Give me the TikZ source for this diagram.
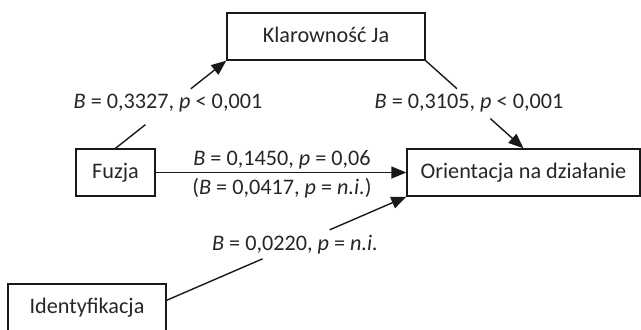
\documentclass[tikz,border=0pt]{standalone}
\usepackage{fontspec}
\setmainfont{Carlito}
\usetikzlibrary{arrows.meta,calc}
\begin{document}
\begin{tikzpicture}[x=0.5pt,y=-0.5pt,
  txt/.style={inner sep=0pt, text height=0.644em, text depth=0pt,
    font=\fontsize{11.1}{13}\selectfont, text=black!85},
  box/.style={txt, draw=black!90, line width=0.7pt, minimum height=23.5pt},
  lab/.style={txt},
  conn/.style={line width=0.7pt, draw=black!90},
  arr/.style={conn, -{Triangle[length=7.5pt,width=6pt]}}]
\useasboundingbox (0,0) rectangle (641,329);
% boxes
\node[box, minimum width=99pt]   (klar)   at (326,36.5)  {Klarowność Ja};
\node[box, minimum width=39.5pt] (fuzja)  at (115.5,172.5) {Fuzja};
\node[box, minimum width=116.5pt] (orient) at (523.5,172.5) {Orientacja na działanie};
\node[box, minimum width=79pt]   (ident)  at (87,307.5)  {Identyfikacja};
% labels
\node[lab] (l1) at (168,102)   {\textit{B} = 0,3327, \textit{p} < 0,001};
\node[lab] (l2) at (469,102)   {\textit{B} = 0,3105, \textit{p} < 0,001};
\node[lab] (l3) at (282,158.7) {\textit{B} = 0,1450, \textit{p} = 0,06};
\node[lab] (l4) at (282,188.5) {(\textit{B} = 0,0417, \textit{p} = \textit{n.i.})};
\node[lab] (l5) at (295,244.5) {\textit{B} = 0,0220, \textit{p} = \textit{n.i.}};
% connectors
\draw[conn] (fuzja.north) -- ($(fuzja.north)!0.27!(klar.south west)$);
\draw[arr] ($(fuzja.north)!0.68!(klar.south west)$) -- (klar.south west);
\draw[conn] (klar.south east) -- ($(klar.south east)!0.32!(orient.north)$);
\draw[arr] ($(klar.south east)!0.66!(orient.north)$) -- (orient.north);
\draw[arr] (fuzja.east) -- (orient.west);
\coordinate (idout) at ($(ident.north east)!0.35!(ident.south east)$);
\draw[conn] (idout) -- ($(idout)!0.40!(orient.south west)$);
\draw[arr] ($(idout)!0.68!(orient.south west)$) -- (orient.south west);
\end{tikzpicture}
\end{document}
